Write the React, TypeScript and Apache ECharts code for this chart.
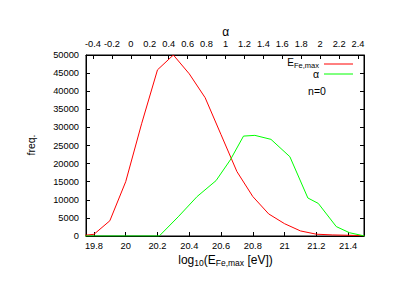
import React, { useEffect, useRef } from "react";
import * as echarts from "echarts";

// ---- data ----
const logE: number[] = [19.7, 19.8, 19.9, 20.0, 20.1, 20.2, 20.3, 20.4, 20.5, 20.6, 20.7, 20.8, 20.9, 21.0, 21.1, 21.2, 21.3, 21.4, 21.5];
const feCounts: number[] = [0, 470, 4200, 15000, 31000, 45900, 50000, 44800, 38200, 28000, 17800, 10900, 6100, 3400, 1400, 500, 300, 200, 100];

const alphaVals: number[] = [-0.5, -0.3, -0.1, 0.1, 0.3, 0.5, 0.7, 0.9, 1.05, 1.19, 1.31, 1.48, 1.68, 1.87, 1.98, 2.17, 2.31, 2.47];
const alphaCounts: number[] = [0, 0, 0, 0, 0, 5300, 10900, 15300, 21000, 27600, 27800, 26700, 21900, 10500, 9000, 2600, 900, 0];

const logETicks: number[] = [19.8, 20, 20.2, 20.4, 20.6, 20.8, 21, 21.2, 21.4];
const alphaTicks: number[] = [-0.4, -0.2, 0, 0.2, 0.4, 0.6, 0.8, 1, 1.2, 1.4, 1.6, 1.8, 2, 2.2, 2.4];
const yTicksMax = 50000;
const yStep = 5000;

const X_MIN = 19.75;
const X_MAX = 21.5;
const A_MIN = -0.474;
const A_MAX = 2.463;

const FONT = "'Liberation Sans', Arial, sans-serif";
const TICK_SIZE = 9.3;
const TITLE_SIZE = 12;
const SUB_SIZE = 8.5;

let ctx: CanvasRenderingContext2D | null = null;
function measure(text: string, size: number): number {
  if (!ctx) ctx = document.createElement("canvas").getContext("2d");
  if (!ctx) return text.length * size * 0.5;
  ctx.font = `${size}px ${FONT}`;
  return ctx.measureText(text).width;
}

type Piece = { t: string; sub: boolean };
function richPieces(pieces: Piece[], x: number, y: number, align: "left" | "center" | "right", main: number, sub: number, dy: number) {
  const widths = pieces.map((p) => measure(p.t, p.sub ? sub : main));
  const total = widths.reduce((a, b) => a + b, 0);
  let cx = align === "left" ? x : align === "center" ? x - total / 2 : x - total;
  const els: any[] = [];
  pieces.forEach((p, i) => {
    els.push({
      type: "text",
      x: cx,
      y: p.sub ? y + dy : y,
      style: {
        text: p.t,
        font: `${p.sub ? sub : main}px ${FONT}`,
        fill: "#000",
        textAlign: "left",
        textVerticalAlign: "middle",
      },
    });
    cx += widths[i];
  });
  return els;
}

const fmt = (v: number) => String(Number(v.toFixed(1)));

export default function App() {
  const ref = useRef<HTMLDivElement>(null);
  useEffect(() => {
    if (!ref.current) return;
    const chart = echarts.init(ref.current, undefined, { renderer: "svg" });
    const axisLabelStyle = { fontFamily: FONT, fontSize: TICK_SIZE, color: "#000" };
    const axisLine = { show: true, onZero: false, lineStyle: { color: "#000", width: 1 } };
    const graphics: any[] = [
      ...richPieces(
        [
          { t: "log", sub: false },
          { t: "10", sub: true },
          { t: "(E", sub: false },
          { t: "Fe,max", sub: true },
          { t: " [eV])", sub: false },
        ],
        225.5, 259.5, "center", TITLE_SIZE, SUB_SIZE, 3.5
      ),
      ...richPieces(
        [
          { t: "E", sub: false },
          { t: "Fe,max", sub: true },
        ],
        319, 62, "right", 10, 7.5, 3
      ),
      {
        type: "text", x: 319, y: 74,
        style: { text: "α", font: `10.5px ${FONT}`, fill: "#000", textAlign: "right", textVerticalAlign: "middle" },
      },
      {
        type: "line", shape: { x1: 324, y1: 64, x2: 353, y2: 64 },
        style: { stroke: "#ff0000", lineWidth: 1 },
      },
      {
        type: "line", shape: { x1: 324, y1: 74, x2: 353, y2: 74 },
        style: { stroke: "#00ff00", lineWidth: 1 },
      },
      {
        type: "text", x: 317, y: 91,
        style: { text: "n=0", font: `10.5px ${FONT}`, fill: "#000", textAlign: "center", textVerticalAlign: "middle" },
      },
      {
        type: "text", x: 225.7, y: 31.5,
        style: { text: "α", font: `12px ${FONT}`, fill: "#000", textAlign: "center", textVerticalAlign: "middle" },
      },
      {
        type: "text", x: 30.5, y: 145, rotation: Math.PI / 2,
        style: { text: "freq.", font: `10.5px ${FONT}`, fill: "#000", textAlign: "center", textVerticalAlign: "middle" },
      },
    ];

    chart.setOption({
      animation: false,
      backgroundColor: "#fff",
      grid: { left: 86, right: 35, top: 55, bottom: 72, show: true, borderColor: "#000", borderWidth: 1, backgroundColor: "transparent" },
      xAxis: [
        {
          type: "value", position: "bottom", min: X_MIN, max: X_MAX,
          axisLine,
          axisTick: { show: true, inside: true, length: 4, customValues: logETicks, lineStyle: { color: "#000" } },
          axisLabel: { show: true, customValues: logETicks, formatter: (v: number) => fmt(v), margin: 5, ...axisLabelStyle },
          splitLine: { show: false },
        },
        {
          type: "value", position: "top", min: A_MIN, max: A_MAX,
          axisLine,
          axisTick: { show: true, inside: true, length: 4, customValues: alphaTicks, lineStyle: { color: "#000" } },
          axisLabel: { show: true, customValues: alphaTicks, formatter: (v: number) => fmt(v), margin: 7, ...axisLabelStyle },
          splitLine: { show: false },
        },
      ],
      yAxis: [
        {
          type: "value", position: "left", min: 0, max: yTicksMax, interval: yStep,
          axisLine,
          axisTick: { show: true, inside: true, length: 4, lineStyle: { color: "#000" } },
          axisLabel: { show: true, margin: 7, formatter: (v: number) => String(v), ...axisLabelStyle },
          splitLine: { show: false },
        },
        {
          type: "value", position: "right", min: 0, max: yTicksMax, interval: yStep,
          axisLine,
          axisTick: { show: true, inside: true, length: 4, lineStyle: { color: "#000" } },
          axisLabel: { show: false },
          splitLine: { show: false },
        },
      ],
      series: [
        {
          name: "E_Fe,max", type: "line", xAxisIndex: 0, yAxisIndex: 0,
          data: logE.map((x, i) => [x, feCounts[i]]),
          showSymbol: false, clip: true,
          lineStyle: { color: "#ff0000", width: 1 }, itemStyle: { color: "#ff0000" },
        },
        {
          name: "α", type: "line", xAxisIndex: 1, yAxisIndex: 0,
          data: alphaVals.map((x, i) => [x, alphaCounts[i]]),
          showSymbol: false, clip: true,
          lineStyle: { color: "#00ff00", width: 1 }, itemStyle: { color: "#00ff00" },
        },
      ],
      graphic: graphics,
    });
    return () => chart.dispose();
  }, []);
  return <div ref={ref} style={{ position: "fixed", left: 0, top: 0, width: 399, height: 308, background: "#fff" }} />;
}
